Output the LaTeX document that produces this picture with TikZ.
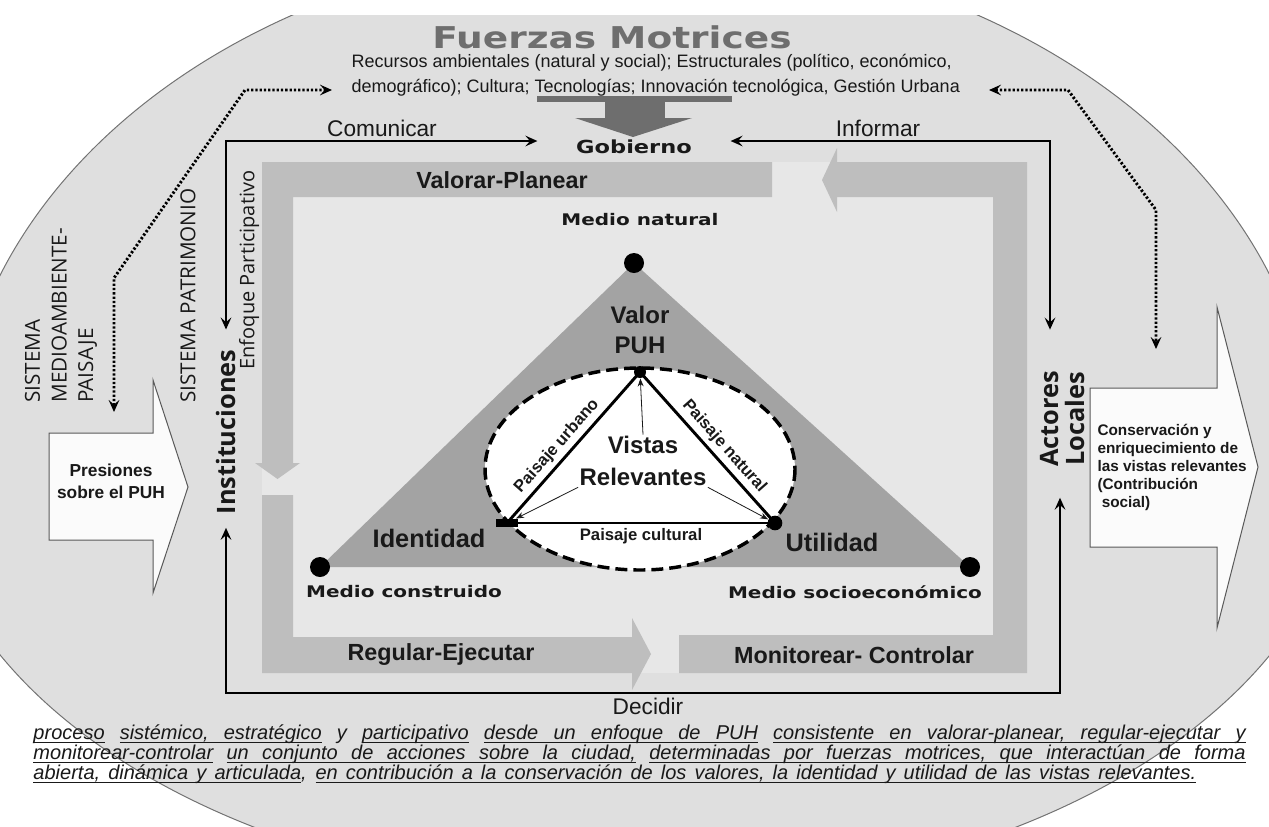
\documentclass[tikz,border=0pt]{standalone}
\usepackage{fontspec}
\setmainfont{Liberation Sans}
\newfontfamily\opensans{Open Sans}
\newfontfamily\wideblack[FakeStretch=1.25]{DejaVu Sans}
\usetikzlibrary{arrows.meta}

% underlined words with stretchable underlined spaces
\newcommand\ulw[1]{\setbox0\hbox{#1}\rlap{\vrule height -2.6pt depth 3.3pt width \wd0\relax}\box0\relax}
\newcommand\ulsp{\leaders\hrule height -2.6pt depth 3.3pt\hskip\fontdimen2\font plus\fontdimen3\font minus\fontdimen4\font\relax}
\def\ulseg#1{\ulsegi#1 \ulend}
\def\ulsegi#1 #2\ulend{\ulw{#1}\ifx\relax#2\relax\else\ulsp\ulsegi#2\ulend\fi}

\definecolor{ovalgray}{RGB}{223,223,223}
\definecolor{panelgray}{RGB}{231,231,231}
\definecolor{bandgray}{RGB}{190,190,190}
\definecolor{trigray}{RGB}{163,163,163}
\definecolor{forcegray}{RGB}{110,110,110}
\definecolor{inkgray}{RGB}{25,25,25}

\tikzset{every picture/.style={line width=0.75pt}}
\tikzset{
  link/.style={draw=black, line width=2pt, >={Stealth[length=9pt,width=8pt,inset=3.5pt]}},
  dotlink/.style={draw=black, line width=2.2pt, dash pattern=on 1.7pt off 1.5pt, >={Stealth[length=9pt,width=8pt,inset=3.5pt]}},
  pointer/.style={draw=inkgray, line width=0.6pt, -{Stealth[length=6pt,width=4.5pt]}},
  side/.style={draw=black, line width=2.2pt},
  band/.style={fill=bandgray},
  blockarrow/.style={draw=black!65, fill=white!88!ovalgray, line width=0.75pt},
  bigdot/.style={circle, fill=black, inner sep=0pt, minimum size=15pt},
  smalldot/.style={circle, fill=black, inner sep=0pt, minimum size=#1},
  plain/.style={inner sep=0.75pt, text=inkgray},
  bandlabel/.style={plain, font=\fontsize{17.5}{20}\selectfont\bfseries},
  medium/.style={plain, font=\fontsize{12}{14}\selectfont\wideblack\bfseries},
  verb/.style={plain, font=\fontsize{17}{20}\selectfont},
  keyword/.style={plain, align=center, font=\fontsize{18}{22.5}\selectfont\bfseries},
  sidelabel/.style={plain, font=\fontsize{12.5}{14}\selectfont\bfseries, inner sep=3pt},
  actor/.style={plain, rotate=90, align=center, font=\fontsize{19}{19.5}\selectfont\opensans\bfseries},
  system/.style={plain, rotate=90, align=left, anchor=west, font=\fontsize{15.5}{20}\selectfont\opensans},
  capline/.style={inner sep=0pt, anchor=base west, text=inkgray, font=\fontsize{15}{18}\selectfont\itshape}
}

\begin{document}
\begin{tikzpicture}[x=0.75pt,y=0.75pt,yscale=-1,xscale=1]
\useasboundingbox (0,0) rectangle (1269,826);

%Shape: Oval background
\begin{scope}
\clip (0,15) rectangle (1269,826);
\path[fill=ovalgray, draw=black!55] (-45,460) arc[start angle=180, end angle=360, x radius=680, y radius=515] -- (1345,460) arc[start angle=0, end angle=180, x radius=710, y radius=435] -- cycle;
\end{scope}

%Shape: Inner panel
\fill[panelgray] (262,162) rectangle (1027,673);

%Shape: Process bands
\fill[band] (262,162) -- (772,162) -- (772,197) -- (293,197) -- (293,463) -- (300,463) -- (277.5,479) -- (255,463) -- (262,463) -- cycle;
\fill[band] (262,495) -- (293,495) -- (293,637) -- (632,637) -- (632,618) -- (651,654) -- (632,690) -- (632,673) -- (262,673) -- cycle;
\fill[band] (679,635) -- (993,635) -- (993,197) -- (837,197) -- (837,212) -- (822,180) -- (837,148) -- (837,162) -- (1027,162) -- (1027,673) -- (679,673) -- cycle;

%Shape: Driving forces arrow
\fill[forcegray] (537,96) rectangle (732,102);
\fill[forcegray] (605,102) rectangle (665,119);
\fill[forcegray] (575,118) -- (692,118) -- (633,137) -- cycle;

% Text Node
\node[plain, text=forcegray, font=\fontsize{22.5}{26}\selectfont\wideblack\bfseries] (fuerzas) at (612,37) {Fuerzas Motrices};
% Text Node
\node[plain, anchor=west, align=left, font=\fontsize{13.5}{18.75}\selectfont] (recursos) at (350,75) {Recursos ambientales (natural y social); Estructurales (político, económico,\\demográfico); Cultura; Tecnologías; Innovación tecnológica, Gestión Urbana};
% Text Node
\node[plain, font=\fontsize{13.5}{16}\selectfont\wideblack\bfseries] (gob) at (634,147) {Gobierno};
\node[verb] (comunicar) at (382,128) {Comunicar};
\node[verb] (informar) at (878,128) {Informar};
\node[verb] (decidir) at (648,706) {Decidir};

% Band labels
\node[bandlabel] (valpla) at (502,180) {Valorar-Planear};
\node[bandlabel] (regeje) at (441,655) {Regular-Ejecutar};
\node[bandlabel] (moncon) at (854,655) {Monitorear- Controlar};

%Shape: Triangle of media
\fill[trigray] (634,263) coordinate (pnat) -- (320,567) coordinate (pcon) -- (970,567) coordinate (psoc) -- cycle;
\node[bigdot] (mnat) at (pnat) {};
\node[bigdot] (mcon) at (pcon) {};
\node[bigdot] (msoc) at (psoc) {};
\node[medium] (lnat) at (640,220) {Medio natural};
\node[medium] (lcon) at (404,592) {Medio construido};
\node[medium] (lsoc) at (855,592) {Medio socioeconómico};

%Shape: Relevant views
\draw[fill=white, line width=2.6pt, dash pattern=on 9pt off 4.5pt] (640,469) ellipse [x radius=155, y radius=101];
\node[smalldot=9pt] (vpuh) at (640,372) {};
\node[fill=black, inner sep=0pt, minimum width=17pt, minimum height=6pt] (vid) at (507,523) {};
\node[smalldot=11pt] (vut) at (775,523) {};
\draw[side] (vid.center) -- node[sidelabel, pos=0.45, rotate=48.6, anchor=south] {Paisaje urbano} (vpuh.center) -- node[sidelabel, pos=0.55, rotate=-48.6, anchor=south] {Paisaje natural} (vut.center);
\draw[side] (vid.center) -- node[sidelabel, below] {Paisaje cultural} (vut.center);
\node[keyword] (valor) at (640,330) {Valor\\PUH};
\node[keyword, font=\fontsize{18}{24}\selectfont\bfseries] (vis) at (643,461) {Vistas\\Relevantes};
\node[keyword, font=\fontsize{19}{22}\selectfont\bfseries] (ident) at (429,538) {Identidad};
\node[keyword, font=\fontsize{19}{22}\selectfont\bfseries] (util) at (832,542) {Utilidad};
\draw[pointer] (vis.north) -- (vpuh);
\draw[pointer] (vis.south west) -- (vid);
\draw[pointer] (vis.south east) -- (vut);

% Actors
\node[actor] (inst) at (226,432) {Instituciones};
\node[actor] (act) at (1063,419) {Actores\\Locales};
\node[system] (medio) at (61,404) {SISTEMA\\MEDIOAMBIENTE-\\PAISAJE};
\node[system] (patri) at (188,404) {SISTEMA PATRIMONIO};
\node[system, font=\fontsize{15}{18}\selectfont\opensans] (enfoque) at (249,371) {Enfoque Participativo};

%Shape: Pressure and contribution arrows
\draw[blockarrow] (49,433) -- (153,433) -- (153,380) -- (188,487) -- (153,593) -- (153,540) -- (49,540) -- cycle;
\node[plain, align=center, font=\fontsize{13}{16.5}\selectfont\bfseries] (pres) at (111,481) {Presiones\\sobre el PUH};
\draw[blockarrow] (1090,388) -- (1217,388) -- (1217,307) -- (1258,467) -- (1217,628) -- (1217,547) -- (1090,547) -- cycle;
\node[plain, anchor=north west, align=left, font=\fontsize{11.5}{13.5}\selectfont\bfseries] (cons) at (1096,423) {Conservación y\\enriquecimiento de\\las vistas relevantes\\(Contribución\\\ social)};

% Connectors
\coordinate (tl) at (226,141);
\coordinate (tr) at (1050,141);
\coordinate (bl) at (226,693);
\coordinate (br) at (1060,693);
\draw[link, <->, shorten <=28pt, shorten >=14pt] (gob.west |- tl) -- (tl) -- (inst.east);
\draw[link, <->, shorten <=28pt, shorten >=30pt] (gob.east |- tr) -- (tr) -- (tr |- act.east);
\draw[link, <->, shorten <=9pt, shorten >=22pt] (inst.west) -- (bl) -- (br) -- (br |- act.west);

\coordinate (ld) at (114,412);
\coordinate (lk) at (114,278);
\coordinate (lm) at (245,90);
\coordinate (le) at (332,90);
\draw[dotlink, <->] (ld) -- (lk) -- (lm) -- (le);
\coordinate (re) at (989,90);
\coordinate (rm) at (1068,90);
\coordinate (rk) at (1156,210);
\coordinate (rd) at (1156,349);
\draw[dotlink, <->] (re) -- (rm) -- (rk) -- (rd);

% Caption
\node[capline] (cap1) at (33,739) {\makebox[909pt][s]{\ulseg{proceso} \ulseg{sistémico, estratégico} y \ulseg{participativo} \ulseg{desde un enfoque de PUH} \ulseg{consistente en valorar-planear, regular-ejecutar y}}};
\node[capline] (cap2) at (33,759) {\makebox[909pt][s]{\ulseg{monitorear-controlar} \ulseg{un conjunto de acciones sobre la ciudad,} \ulseg{determinadas por fuerzas motrices, que interactúan de forma}}};
\node[capline] (cap3) at (33,779) {\makebox[872pt][s]{\ulseg{abierta, dinámica y articulada}, \ulseg{en contribución a la conservación de los valores, la identidad y utilidad de las vistas relevantes.}}};

\end{tikzpicture}
\end{document}
